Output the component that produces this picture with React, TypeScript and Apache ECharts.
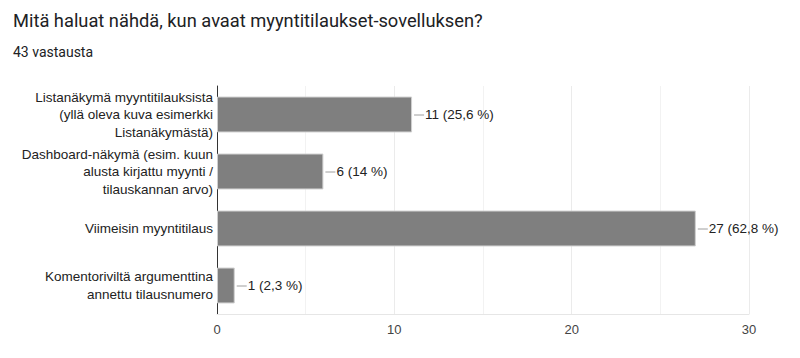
import React, { useEffect, useRef } from "react";
import * as echarts from "echarts";

const titleText = "Mitä haluat nähdä, kun avaat myyntitilaukset-sovelluksen?";
const subtitleText = "43 vastausta";
const categories = [
  "Listanäkymä myyntitilauksista\n(yllä oleva kuva esimerkki\nListanäkymästä)",
  "Dashboard-näkymä (esim. kuun\nalusta kirjattu myynti /\ntilauskannan arvo)",
  "Viimeisin myyntitilaus",
  "Komentoriviltä argumenttina\nannettu tilausnumero",
];
const counts = [11, 6, 27, 1];
const percents = ["25,6 %", "14 %", "62,8 %", "2,3 %"];

const FONT = "'Liberation Sans', Arial, sans-serif";

export default function App() {
  const ref = useRef<HTMLDivElement>(null);
  useEffect(() => {
    if (!ref.current) return;
    const chart = echarts.init(ref.current, undefined, { renderer: "svg" });
    chart.setOption({
      animation: false,
      backgroundColor: "#ffffff",
      title: [
        {
          text: titleText,
          left: 8,
          top: 6,
          textStyle: { fontSize: 18.3, fontWeight: "normal", color: "#202124", fontFamily: "Roboto, sans-serif" },
        },
        {
          text: subtitleText,
          left: 8,
          top: 40,
          textStyle: { fontSize: 14, fontWeight: "normal", color: "#202124", fontFamily: "Roboto, sans-serif" },
        },
      ],
      grid: { left: 217, right: 51, top: 86, bottom: 44, containLabel: false },
      xAxis: {
        type: "value",
        min: 0,
        max: 30,
        interval: 10,
        axisLine: { show: true, lineStyle: { color: "#e6e6e6" } },
        axisTick: { show: false },
        axisLabel: { fontSize: 13, color: "#444", fontFamily: FONT, margin: 9 },
        splitLine: { show: true, lineStyle: { color: "#ebebeb" } },
        minorTick: { show: false, splitNumber: 2 },
        minorSplitLine: { show: true, lineStyle: { color: "#f2f2f2" } },
      },
      yAxis: {
        type: "category",
        inverse: true,
        data: categories,
        axisLine: { show: true, lineStyle: { color: "#333", width: 1 } },
        axisTick: { show: false },
        axisLabel: { fontSize: 13.5, color: "#222", fontFamily: FONT, lineHeight: 17.5, margin: 4, align: "right" },
        splitLine: { show: false },
      },
      series: [
        {
          type: "bar",
          data: counts,
          barCategoryGap: "37%",
          itemStyle: { color: "#7f7f7f", borderColor: "#cfcfcf", borderWidth: 1 },
          label: {
            show: true,
            position: "right",
            distance: 13,
            fontSize: 13.5,
            color: "#222",
            fontFamily: FONT,
            formatter: (p: any) => `${counts[p.dataIndex]} (${percents[p.dataIndex]})`,
          },
        },
        {
          type: "custom",
          data: counts.map((v, i) => [v, i]),
          renderItem: (params: any, api: any) => {
            const pt = api.coord([api.value(0), api.value(1)]);
            return {
              type: "line",
              shape: { x1: pt[0] + 2, y1: pt[1] + 0.5, x2: pt[0] + 12, y2: pt[1] + 0.5 },
              style: { stroke: "#9e9e9e", lineWidth: 1 },
            };
          },
          encode: { x: 0, y: 1 },
          silent: true,
          z: 5,
        },
      ],
    });
    return () => chart.dispose();
  }, []);
  return <div ref={ref} style={{ position: "absolute", left: 0, top: 0, width: 800, height: 358 }} />;
}
